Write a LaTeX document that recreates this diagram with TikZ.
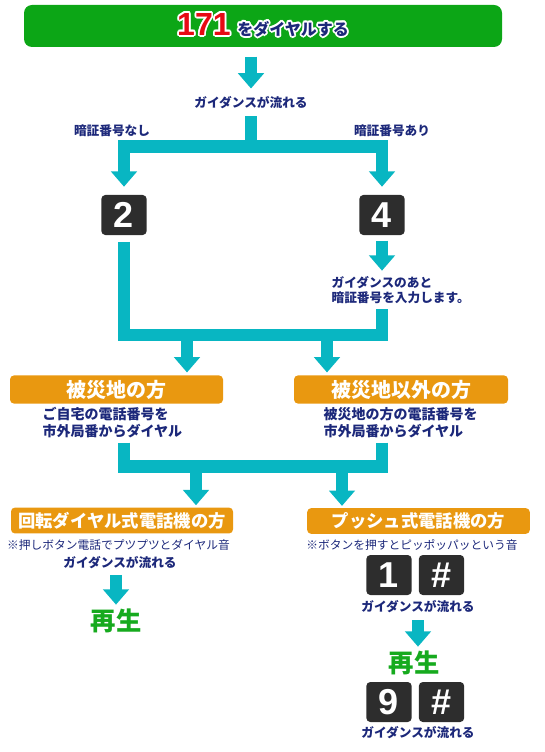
\documentclass[tikz,border=0pt]{standalone}
\usepackage{fontspec}
\usepackage[copies]{contour}
\usetikzlibrary{arrows.meta, positioning}
\newfontfamily\jp{Noto Sans CJK JP}
\newfontfamily\keyfont{Liberation Sans}
\definecolor{flowteal}{RGB}{8, 182, 194}
\definecolor{titlegreen}{RGB}{12, 166, 22}
\definecolor{areaorange}{RGB}{233, 152, 16}
\definecolor{keygray}{RGB}{45, 45, 45}
\definecolor{guidenavy}{RGB}{28, 40, 122}
\definecolor{playgreen}{RGB}{22, 170, 30}
\definecolor{dialred}{RGB}{230, 10, 20}
\contourlength{1.3pt}
\contournumber{12}
\tikzset{
    flowline/.style={draw=flowteal, line width=9.5pt, line join=miter},
    flow/.style={flowline, -{Triangle[width=19pt, length=11.5pt]}},
    titlebar/.style={rectangle, fill=titlegreen, rounded corners=6pt, minimum width=358.5pt, minimum height=31.5pt},
    areabox/.style={rectangle, fill=areaorange, rounded corners=3pt, minimum height=20.25pt, text=white, font=\jp\bfseries\fontsize{15}{15}\selectfont},
    phonebox/.style={rectangle, fill=areaorange, rounded corners=3pt, minimum height=18.75pt, text=white, font=\jp\bfseries\fontsize{13}{13}\selectfont},
    keybox/.style={rectangle, fill=keygray, rounded corners=3pt, minimum width=34pt, minimum height=30pt, inner sep=0pt, text=white, font=\keyfont\bfseries\fontsize{27}{27}\selectfont},
    guide/.style={font=\jp\bfseries\fontsize{9.5}{11.25}\selectfont, text=guidenavy, inner sep=1pt},
    note/.style={font=\jp\bfseries\fontsize{10.5}{12.75}\selectfont, text=guidenavy, inner sep=1pt, align=left, anchor=west},
    tip/.style={font=\jp\fontsize{8.8}{10}\selectfont, text=guidenavy, inner sep=1pt},
    play/.style={font=\jp\bfseries\fontsize{19}{19}\selectfont, text=playgreen, inner sep=1pt}
}
\begin{document}
\begin{tikzpicture}[x=0.75pt, y=-0.75pt]
    \useasboundingbox (0,0) rectangle (545,752);

    % Dial 171
    \node[titlebar] (dial) at (263,26) {\contour{white}{\textcolor{dialred}{\keyfont\bfseries\fontsize{24}{24}\selectfont 171}}\hspace{5pt}\contour{white}{\textcolor{guidenavy}{\jp\bfseries\fontsize{12}{12}\selectfont をダイヤルする}}};
    \node[guide] (guide1) at (251,103) {ガイダンスが流れる};
    \draw[flow, shorten <=7pt, shorten >=5pt] (guide1.north |- dial.south) -- (guide1.north);

    % PIN or not
    \node[guide] (nopin) at (112,131) {暗証番号なし};
    \node[guide] (withpin) at (392,131) {暗証番号あり};
    \node[keybox] (key2) at (124,215) {2};
    \node[keybox] (key4) at (382,215) {4};
    \coordinate (split) at (251,146.5);
    \draw[flowline, shorten <=4pt] (guide1.south) -- (split);
    \draw[flow, shorten >=6pt] (split) -| (key2.north);
    \draw[flow, shorten >=6pt] (split) -| (key4.north);

    \node[guide, align=left, anchor=west] (pinnote) at (330,290) {ガイダンスのあと\\暗証番号を入力します。};
    \draw[flow, shorten <=4pt, shorten >=3pt] (key4.south) -- (pinnote.north -| key4.south);

    % Merge to areas
    \coordinate (merge) at (256,335);
    \draw[flowline, shorten <=5pt] (key2.south) |- (merge);
    \draw[flowline, shorten <=3pt] (pinnote.south -| key4.south) |- (merge);

    \node[areabox, minimum width=159.75pt] (area1) at (116.5,389.5) {被災地の方};
    \node[areabox, minimum width=160.5pt] (area2) at (401,389.5) {被災地以外の方};
    \coordinate (dropA) at (187,335);
    \coordinate (dropB) at (327,335);
    \draw[flow, shorten >=2pt] (dropA) -- (dropA |- area1.north);
    \draw[flow, shorten >=2pt] (dropB) -- (dropB |- area2.north);

    \node[note] (note1) at (41,423) {ご自宅の電話番号を\\市外局番からダイヤル};
    \node[note] (note2) at (322,423) {被災地の方の電話番号を\\市外局番からダイヤル};

    % Merge to phone types
    \coordinate (merge2) at (256,466.5);
    \draw[flowline, shorten <=2pt] (note1.south -| key2.south) |- (merge2);
    \draw[flowline, shorten <=2pt] (note2.south -| key4.south) |- (merge2);

    \node[phonebox, minimum width=166.5pt] (phone1) at (122,520.5) {回転ダイヤル式電話機の方};
    \node[phonebox, minimum width=167pt] (phone2) at (418.5,521) {プッシュ式電話機の方};
    \coordinate (dropC) at (196,466.5);
    \coordinate (dropD) at (342,466.5);
    \draw[flow, shorten >=1.5pt] (dropC) -- (dropC |- phone1.north);
    \draw[flow, shorten >=1.5pt] (dropD) -- (dropD |- phone2.north);

    % Rotary dial
    \node[tip] (tip1) at (118.5,545) {※押しボタン電話でプツプツとダイヤル音};
    \node[guide] (guide3) at (120,563) {ガイダンスが流れる};
    \node[play] (play1) at (116,621) {再生};
    \draw[flow, shorten <=3pt, shorten >=2pt] (guide3.south -| play1.north) -- (play1.north);

    % Push phone
    \node[tip] (tip2) at (412,545) {※ボタンを押すとピッポッパッという音};
    \node[keybox] (key1) at (389,575) {1};
    \node[keybox] (keyhashA) at (441.5,575) {\#};
    \node[guide] (guide4) at (418,607) {ガイダンスが流れる};
    \node[play] (play2) at (414,663) {再生};
    \draw[flow, shorten <=4pt, shorten >=2pt] (guide4.south) -- (play2.north -| guide4.south);
    \node[keybox] (key9) at (389,702) {9};
    \node[keybox] (keyhashB) at (441.5,702) {\#};
    \node[guide] (guide5) at (418,733) {ガイダンスが流れる};

\end{tikzpicture}
\end{document}
